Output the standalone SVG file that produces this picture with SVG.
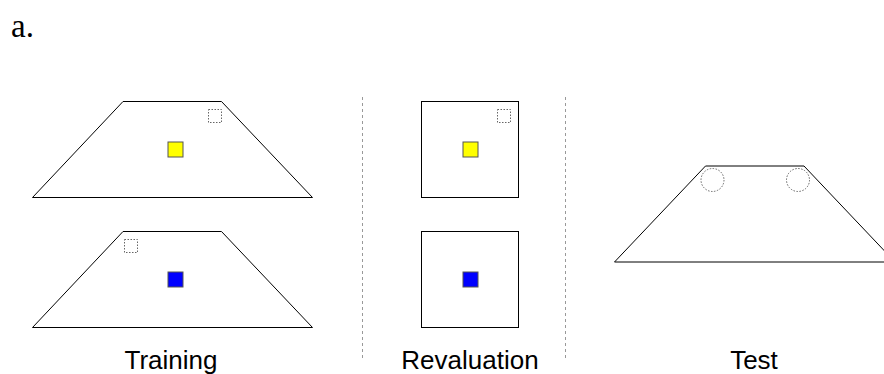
<svg xmlns="http://www.w3.org/2000/svg" width="884" height="374" viewBox="0 0 884 374">
<style>
.shape{fill:#fff;stroke:#000;stroke-width:1}
.cue{stroke:#555;stroke-width:1}
.dot{fill:none;stroke:#666;stroke-width:1;stroke-dasharray:1.5 1.5}
.sep{stroke:#999;stroke-width:1;stroke-dasharray:3 3}
.lbl{font-family:"Liberation Sans",Arial,sans-serif;font-size:26px;fill:#000;text-anchor:middle}
</style>
<rect width="884" height="374" fill="#fff"/>
<text x="11" y="37" font-family="Liberation Serif,'Times New Roman',serif" font-size="33" fill="#000">a.</text>
<g id="separators">
<line class="sep" x1="362.5" y1="97" x2="362.5" y2="360"/>
<line class="sep" x1="565.5" y1="97" x2="565.5" y2="360"/>
</g>
<g id="training-top">
<polygon class="shape" points="123,101.5 221.5,101.5 312.5,197.5 32.5,197.5"/>
<rect class="dot" x="208.5" y="109.5" width="13" height="13"/>
<rect class="cue" x="168" y="142" width="15" height="15" fill="#ffff00"/>
</g>
<g id="training-bottom">
<polygon class="shape" points="123,231.5 221.5,231.5 312.5,327.5 32.5,327.5"/>
<rect class="dot" x="124.5" y="239.5" width="13" height="13"/>
<rect class="cue" x="168" y="272" width="15" height="15" fill="#0000ff"/>
</g>
<g id="revaluation-top">
<rect class="shape" x="421.5" y="101.5" width="97" height="96"/>
<rect class="dot" x="497.5" y="109.5" width="13" height="13"/>
<rect class="cue" x="463" y="142" width="15" height="15" fill="#ffff00"/>
</g>
<g id="revaluation-bottom">
<rect class="shape" x="421.5" y="231.5" width="97" height="96"/>
<rect class="cue" x="463" y="272" width="15" height="15" fill="#0000ff"/>
</g>
<g id="test">
<polygon class="shape" points="705.5,166 804,166 895,262 614.5,262"/>
<circle class="dot" cx="712.5" cy="180" r="11.5"/>
<circle class="dot" cx="798" cy="180" r="11.5"/>
</g>
<g id="labels">
<text class="lbl" x="171" y="369">Training</text>
<text class="lbl" x="470" y="369">Revaluation</text>
<text class="lbl" x="754" y="369">Test</text>
</g>
</svg>
